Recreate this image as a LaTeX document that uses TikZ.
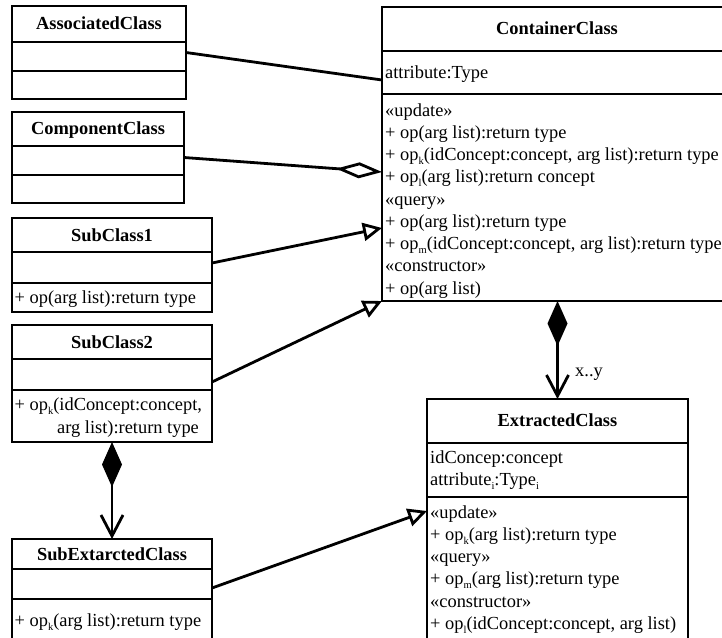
\documentclass[tikz,border=0pt]{standalone}
\usepackage{fontspec}
\setmainfont{Liberation Serif}
\usetikzlibrary{arrows.meta}
\newcommand\umlline[4]{\node[txt] (#1) at (#2,#3) {#4};}
\newcommand\umlsub[1]{\raisebox{-4pt}{\fontsize{10.5}{10.5}\selectfont #1}}
\begin{document}
\begin{tikzpicture}[x=1pt,y=-1pt,
  ln/.style={line width=2.8pt},
  cls/.style={draw, line width=2.8pt, inner sep=0pt, outer sep=0pt, anchor=north west},
  txt/.style={anchor=base west, inner sep=0pt, font=\fontsize{18.4}{22.25}\selectfont},
  ttl/.style={anchor=base, inner sep=0pt, font=\fontsize{18.4}{22.25}\selectfont\bfseries},
  gen/.style={ln, -{Triangle[open, length=19pt, width=18pt]}},
  aggr/.style={ln, {Diamond[open, length=46pt, width=16pt]}-},
  comps/.style={ln, arrows={Diamond[length=45pt, width=20pt]-Straight Barb[length=21pt, width=22pt]}}]
\useasboundingbox (0,0) rectangle (722,637);
\clip (0,0) rectangle (722,637);
\fill[white] (0,0) rectangle (722,637);

% class boxes
\node[cls, minimum width=174pt, minimum height=93pt] (assoc) at (12,6) {};
\node[cls, minimum width=172pt, minimum height=91pt] (comp) at (12,112) {};
\node[cls, minimum width=200pt, minimum height=94pt] (sub1) at (12,218) {};
\node[cls, minimum width=200pt, minimum height=117pt] (sub2) at (12,325) {};
\node[cls, minimum width=200pt, minimum height=120pt] (subext) at (12,539) {};
\node[cls, minimum width=350pt, minimum height=294pt] (cont) at (382,7) {};
\node[cls, minimum width=261pt, minimum height=260pt] (ext) at (427,399) {};

% compartment dividers
\draw[ln] (12,42) -- (186,42) (12,71) -- (186,71);
\draw[ln] (12,146) -- (184,146) (12,175) -- (184,175);
\draw[ln] (12,252) -- (212,252) (12,283) -- (212,283);
\draw[ln] (12,359) -- (212,359) (12,390) -- (212,390);
\draw[ln] (12,569) -- (212,569) (12,599) -- (212,599);
\draw[ln] (382,51) -- (732,51) (382,94) -- (732,94);
\draw[ln] (427,443) -- (688,443) (427,497) -- (688,497);

% titles
\node[ttl] (assocT) at (99,29.5) {AssociatedClass};
\node[ttl] (compT) at (98,134) {ComponentClass};
\node[ttl] (sub1T) at (112,241) {SubClass1};
\node[ttl] (sub2T) at (112,348) {SubClass2};
\node[ttl] (subextT) at (112,560) {SubExtarctedClass};
\node[ttl] (contT) at (557,34) {ContainerClass};
\node[ttl] (extT) at (557.5,426) {ExtractedClass};

% left classes' operations
\umlline{s1a}{14.5}{303}{+ op(arg list):return type}
\umlline{s2a}{14.5}{410}{+ op\umlsub{k}(idConcept:concept,}
\umlline{s2b}{57}{433}{arg list):return type}
\umlline{sea}{14.5}{626}{+ op\umlsub{k}(arg list):return type}

% ContainerClass
\umlline{ca}{385}{78}{attribute:Type}
\umlline{c1}{385}{116}{«update»}
\umlline{c2}{385}{138.25}{+ op(arg list):return type}
\umlline{c3}{385}{160.5}{+ op\umlsub{k}(idConcept:concept, arg list):return type}
\umlline{c4}{385}{182.75}{+ op\umlsub{l}(arg list):return concept}
\umlline{c5}{385}{205}{«query»}
\umlline{c6}{385}{227.25}{+ op(arg list):return type}
\umlline{c7}{385}{249.5}{+ op\umlsub{m}(idConcept:concept, arg list):return type}
\umlline{c8}{385}{271.75}{«constructor»}
\umlline{c9}{385}{294}{+ op(arg list)}

% ExtractedClass
\umlline{ea}{430}{463.5}{idConcep:concept}
\umlline{eb}{430}{485.5}{attribute\umlsub{i}:Type\umlsub{i}}
\umlline{e1}{430}{518}{«update»}
\umlline{e2}{430}{540.25}{+ op\umlsub{k}(arg list):return type}
\umlline{e3}{430}{562.5}{«query»}
\umlline{e4}{430}{584.75}{+ op\umlsub{m}(arg list):return type}
\umlline{e5}{430}{607}{«constructor»}
\umlline{e6}{430}{629.25}{+ op\umlsub{l}(idConcept:concept, arg list)}

% connectors
\draw[ln] (assoc.east) -- (cont.west |- 0,80);
\draw[aggr] (cont.west |- 0,172) -- (comp.east);
\draw[gen] (sub1.east |- 0,263) -- (cont.west |- 0,228);
\draw[gen] (sub2.east |- 0,382) -- (cont.south west);
\draw[gen] (subext.east |- 0,588) -- (ext.west |- 0,511);
\draw[comps] (sub2.south) -- (subext.north);
\draw[comps] (cont.south -| ext.north) -- (ext.north);
\node[txt] (mult) at (575,376.5) {x..y};
\end{tikzpicture}
\end{document}
